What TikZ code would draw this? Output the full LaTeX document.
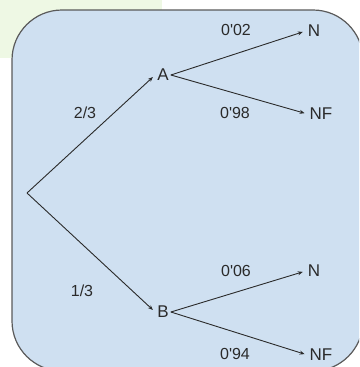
\documentclass[tikz,border=0pt]{standalone}
\usepackage{fontspec}
\setmainfont{Liberation Sans}
\usetikzlibrary{arrows.meta}
\definecolor{boxfill}{HTML}{CFE0F1}
\definecolor{boxline}{HTML}{5A5A5A}
\definecolor{greenbg}{HTML}{EEF8E4}
\definecolor{ink}{HTML}{2A2A2A}
\newcommand{\aq}{\textquotesingle}
\tikzset{
  lbl/.style={font=\fontsize{16}{18}\selectfont, text=ink, inner sep=0pt},
  st/.style={font=\fontsize{17}{19}\selectfont, text=ink, inner sep=2pt},
  br/.style={draw=ink, line width=0.9pt, -{Stealth[length=5pt,width=4pt]}, shorten >=3pt}
}
\begin{document}
\begin{tikzpicture}[x=1pt,y=-1pt]
\useasboundingbox (0,0) rectangle (359,367);
\clip (0,0) rectangle (359,367);
\fill[greenbg] (0,0) rectangle (162,58);
\draw[boxline, fill=boxfill, line width=1.2pt, rounded corners=50pt] (12,10) rectangle (363,371);
\coordinate (R) at (27,193);
\node[st] (A) at (163,75) {A};
\node[st] (B) at (163,312) {B};
\node[st] (N1) at (314,31) {N};
\node[st] (NF1) at (321,114) {NF};
\node[st] (N2) at (314,271) {N};
\node[st] (NF2) at (321,355) {NF};
\draw[br] (R) -- (A.west);
\draw[br] (R) -- (B.west);
\draw[br] (A.east) -- (N1.west);
\draw[br] (A.east) -- (NF1.west);
\draw[br] (B.east) -- (N2.west);
\draw[br] (B.east) -- (NF2.west);
\node[lbl] (l1) at (85,113) {2/3};
\node[lbl] (l2) at (82,291) {1/3};
\node[lbl] (l3) at (236,30) {0\aq02};
\node[lbl] (l4) at (235,113) {0\aq98};
\node[lbl] (l5) at (236,271) {0\aq06};
\node[lbl] (l6) at (235,354) {0\aq94};
\end{tikzpicture}
\end{document}
